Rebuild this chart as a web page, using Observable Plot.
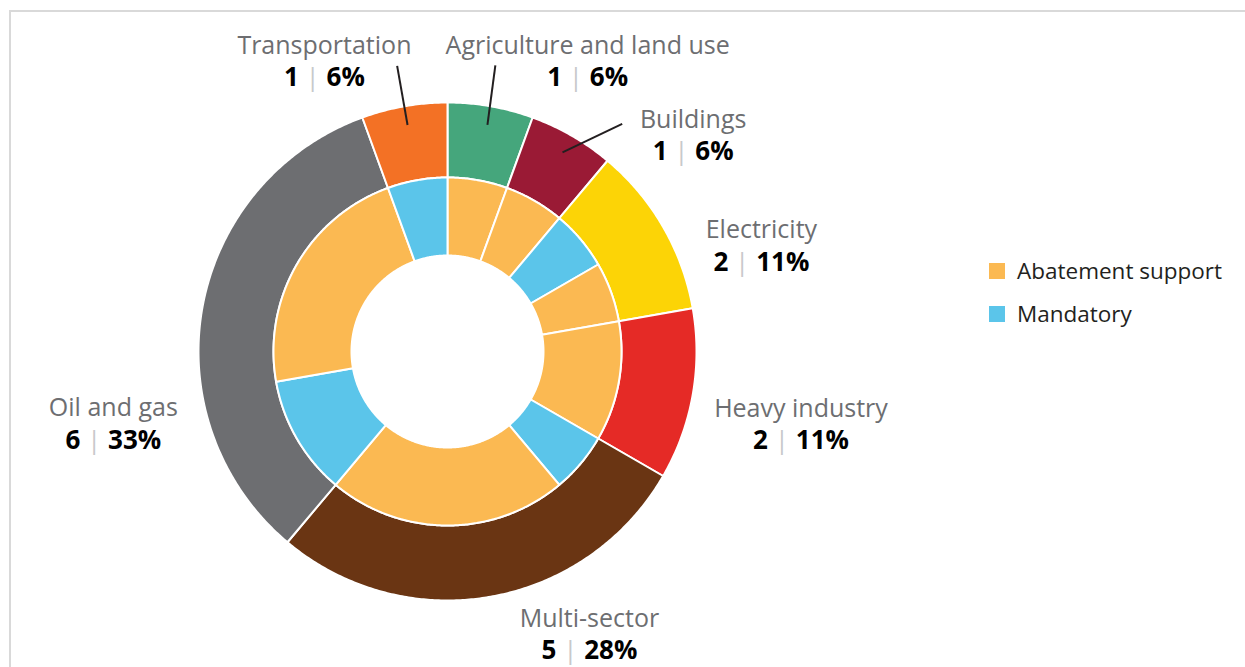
<!DOCTYPE html>
<html>
<head>
<meta charset="utf-8">
<script src="https://cdn.jsdelivr.net/npm/d3@7"></script>
<script src="https://cdn.jsdelivr.net/npm/@observablehq/plot@0.6"></script>
<style>
  html, body { margin: 0; padding: 0; background: #fff; }
  #wrap { position: relative; width: 1245px; height: 667px; overflow: hidden; font-family: "Open Sans", sans-serif; }
  #frame { position: absolute; left: 9px; top: 10px; right: -4px; bottom: -4px; border-top: 2px solid #d9d9d9; border-left: 2px solid #d9d9d9; }
  #chart { position: absolute; left: 0; top: 0; }
  #legend { position: absolute; left: 989px; top: 249px; }
  .item { display: flex; align-items: center; height: 43px; font-size: 22.5px; color: #231f20; }
  .sw { width: 16px; height: 16px; margin-right: 12px; }
</style>
</head>
<body>
<div id="wrap">
  <div id="frame"></div>
  <div id="chart"></div>
  <div id="legend"></div>
</div>
<script>
// ---- data ----
const sectors = ["Agriculture and land use", "Buildings", "Electricity", "Heavy industry", "Multi-sector", "Oil and gas", "Transportation"];
const sectorCounts = [1, 1, 2, 2, 5, 6, 1];
const sectorColors = ["#45a67c", "#9a1a35", "#fcd406", "#e52a26", "#6a3513", "#6d6e71", "#f37125"];
const types = ["Abatement support", "Mandatory"];
const typeColors = ["#fbb952", "#5bc5ea"];
const mandatoryCounts = [0, 0, 1, 0, 1, 2, 1];
const abatementCounts = [1, 1, 1, 2, 4, 4, 0];

// ---- layout (label placement, polar: degrees clockwise from top, radius in px) ----
const labelAngle  = [25.8, 48.7, 71.5, 101.7, 153.4, 257.7, 337.0];
const labelRadius = [322, 327, 331, 361, 317, 342, 315];
const leaderEndAngle  = [9.5, 37.5, null, null, null, null, 350];
const leaderEndRadius = [290, 287, null, null, null, null, 290];

const R_HOLE = 96, R_MID = 174, R_OUT = 249, K = 0.25;
const total = d3.sum(sectorCounts);
const UNIT = 360 / total;

const lon = (theta) => 180 - theta;
const lat = (r) => 90 - r * K;

function slicePolygon(a0, a1, r0, r1) {
  const n = Math.max(2, Math.ceil((a1 - a0) / 0.5));
  const ring = [];
  for (let i = 0; i <= n; i++) { const a = a0 + (a1 - a0) * i / n; ring.push([lon(a), lat(r1)]); }
  for (let i = n; i >= 0; i--) { const a = a0 + (a1 - a0) * i / n; ring.push([lon(a), lat(r0)]); }
  ring.push(ring[0]);
  let f = {type: "Feature", geometry: {type: "Polygon", coordinates: [ring]}};
  if (d3.geoArea(f) > 2 * Math.PI) f.geometry.coordinates = [ring.slice().reverse()];
  return f;
}

const slices = [];
const labels = [];
const leaders = [];
let cum = 0;
sectors.forEach((s, i) => {
  const a0 = cum * UNIT, a1 = (cum + sectorCounts[i]) * UNIT;
  const outer = slicePolygon(a0, a1, R_MID, R_OUT);
  outer.properties = {key: s};
  slices.push(outer);
  let c = cum;
  [[types[1], mandatoryCounts[i]], [types[0], abatementCounts[i]]].forEach(([t, v]) => {
    if (v > 0) {
      const f = slicePolygon(c * UNIT, (c + v) * UNIT, R_HOLE, R_MID);
      f.properties = {key: t};
      slices.push(f);
      c += v;
    }
  });
  labels.push({
    name: s,
    value: `${sectorCounts[i]}|${Math.round(sectorCounts[i] / total * 100)}%`,
    lon: lon(labelAngle[i]), lat: lat(labelRadius[i])
  });
  if (leaderEndAngle[i] != null) {
    const mid = (a0 + a1) / 2;
    leaders.push({x1: lon(mid), y1: lat(230), x2: lon(leaderEndAngle[i]), y2: lat(leaderEndRadius[i])});
  }
  cum += sectorCounts[i];
});

const plot = Plot.plot({
  width: 1245,
  height: 667,
  marginLeft: 447 - R_OUT,
  marginRight: 1245 - (447 + R_OUT),
  marginTop: 351 - R_OUT,
  marginBottom: 667 - (351 + R_OUT),
  style: {fontFamily: "Open Sans, sans-serif", background: "transparent"},
  projection: {
    type: "azimuthal-equidistant",
    rotate: [0, -90],
    domain: d3.geoCircle().center([0, 90]).radius(R_OUT * K)(),
    clip: false
  },
  color: {domain: [...sectors, ...types], range: [...sectorColors, ...typeColors]},
  marks: [
    Plot.geo(slices, {fill: (d) => d.properties.key, stroke: "white", strokeWidth: 2}),
    Plot.link(leaders, {x1: "x1", y1: "y1", x2: "x2", y2: "y2", stroke: "#231f20", strokeWidth: 2, curve: "linear"}),
    Plot.text(labels, {x: "lon", y: "lat", text: "name", lineAnchor: "bottom", dy: -8, fill: "#6d6e71", fontSize: 25, fontWeight: 500}),
    Plot.text(labels, {x: "lon", y: "lat", text: "value", lineAnchor: "top", dy: 6, fill: "#000", fontSize: 26, fontWeight: "bold"})
  ]
});

// style the "count | percent" lines with mixed runs
plot.querySelectorAll("text").forEach((t) => {
  const s = t.textContent;
  if (!s.includes("|")) return;
  const [a, b] = s.split("|");
  t.textContent = "";
  const ns = "http://www.w3.org/2000/svg";
  const mk = (txt, attrs) => { const e = document.createElementNS(ns, "tspan"); e.textContent = txt; for (const k in attrs) e.setAttribute(k, attrs[k]); t.appendChild(e); };
  mk(a, {"font-weight": "bold", fill: "#000"});
  mk(" | ", {"font-weight": "normal", fill: "#c8c9cb"});
  mk(b, {"font-weight": "bold", fill: "#000"});
});

document.getElementById("chart").appendChild(plot);

const legend = document.getElementById("legend");
types.forEach((t, i) => {
  const item = document.createElement("div");
  item.className = "item";
  const sw = document.createElement("div");
  sw.className = "sw";
  sw.style.background = typeColors[i];
  const lab = document.createElement("span");
  lab.textContent = t;
  item.appendChild(sw); item.appendChild(lab);
  legend.appendChild(item);
});
</script>
</body>
</html>
